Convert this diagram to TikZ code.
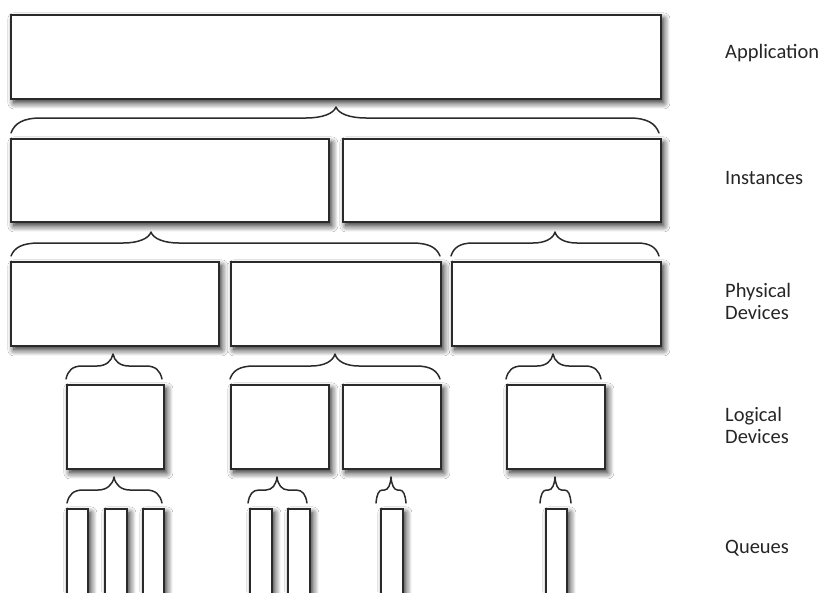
\documentclass[tikz,border=0pt]{standalone}
\usepackage{fontspec}
\setmainfont{Carlito}
\usetikzlibrary{shadows.blur}
\definecolor{ink}{HTML}{2A2A2A}
\definecolor{txt}{HTML}{262626}
\tikzset{
  box/.style={draw=ink, line width=1.8pt, fill=white, inner sep=0pt, anchor=north west,
    blur shadow={shadow xshift=3pt, shadow yshift=-4pt, shadow blur radius=6pt,
      shadow blur steps=12, shadow opacity=85}},
  bracestyle/.style={draw=ink, line width=1.5pt, line cap=round, line join=round},
  lbl/.style={anchor=west, text=txt, font=\fontsize{20.5}{22}\selectfont, align=left, inner sep=0pt}
}
% xa xm xb ytip yflat yend r
\newcommand\mybracedraw[7]{%
  \draw[bracestyle] (#1,#6) .. controls (#1+0.12*#7,#5+0.35*#6-0.35*#5) and (#1+0.4*#7,#5) .. (#1+#7,#5)
    -- (#2-#7,#5) .. controls (#2-0.45*#7,#5) and (#2-0.08*#7,#5-0.4*#5+0.4*#4) .. (#2,#4)
    .. controls (#2+0.08*#7,#5-0.4*#5+0.4*#4) and (#2+0.45*#7,#5) .. (#2+#7,#5)
    -- (#3-#7,#5) .. controls (#3-0.4*#7,#5) and (#3-0.12*#7,#5+0.35*#6-0.35*#5) .. (#3,#6);}
\newcommand\mkbox[5]{% name x1 y1 x2 y2
  \node[box, minimum width={(#4-#2)*1pt}, minimum height={(#5-#3)*1pt}] (#1) at (#2,#3) {};}
\begin{document}
\begin{tikzpicture}[x=1pt,y=-1pt]
\fill[white] (0,0) rectangle (824,592);
\clip (0,0) rectangle (824,592);
% Application
\mkbox{app}{10}{14}{660}{98}
% Instances
\mkbox{inst1}{10}{138}{328}{221}
\mkbox{inst2}{342}{138}{660}{221}
% Physical devices
\mkbox{phys1}{10}{261}{218}{345}
\mkbox{phys2}{230}{261}{440}{345}
\mkbox{phys3}{451}{261}{660}{345}
% Logical devices
\mkbox{log1}{66}{384}{163}{468}
\mkbox{log2}{230}{384}{328}{468}
\mkbox{log3}{342}{384}{440}{468}
\mkbox{log4}{506}{384}{604}{468}
% Queues
\mkbox{q1}{66}{508}{87}{610}
\mkbox{q2}{104}{508}{126}{610}
\mkbox{q3}{142}{508}{163}{610}
\mkbox{q4}{249}{508}{271}{610}
\mkbox{q5}{287}{508}{309}{610}
\mkbox{q6}{380}{508}{402}{610}
\mkbox{q7}{545}{508}{566}{610}
% Braces
\mybracedraw{11}{336}{659}{107}{118}{133}{30}
\mybracedraw{11}{151}{440}{232}{243}{256}{28}
\mybracedraw{451}{555}{659}{232}{243}{256}{22}
\mybracedraw{66}{113}{162}{354}{366}{379}{16}
\mybracedraw{230}{335}{440}{354}{366}{379}{24}
\mybracedraw{506}{553}{601}{354}{366}{379}{16}
\mybracedraw{67}{114}{162}{477}{490}{503}{16}
\mybracedraw{248}{277}{307}{477}{490}{503}{11}
\mybracedraw{376}{391}{406}{477}{490}{503}{6.5}
\mybracedraw{540}{555}{571}{477}{490}{503}{6.5}
% Labels
\node[lbl] (lapp) at (725,53) {Application};
\node[lbl] (linst) at (725,178) {Instances};
\node[lbl] (lphys) at (725,301) {Physical\\Devices};
\node[lbl] (llog) at (725,425) {Logical\\Devices};
\node[lbl] (lq) at (725,548) {Queues};
\end{tikzpicture}
\end{document}
